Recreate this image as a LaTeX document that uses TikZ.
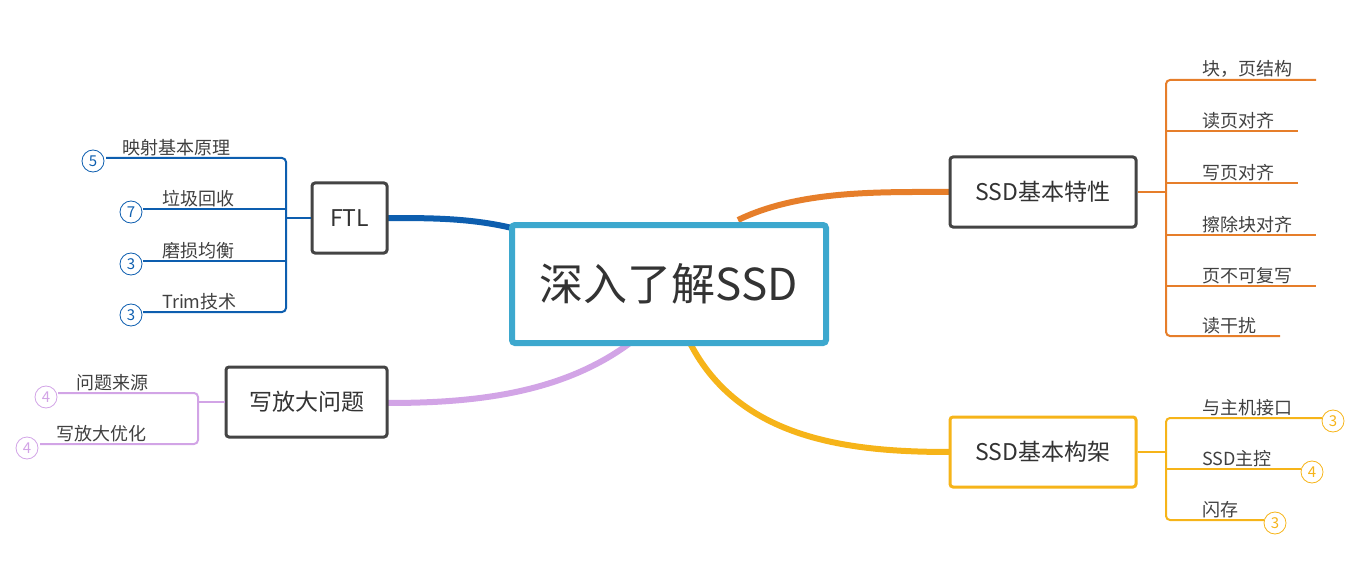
\documentclass[tikz,border=0pt]{standalone}
\usepackage{fontspec}
\setmainfont{Noto Sans CJK SC}
\begin{document}
\begin{tikzpicture}[x=1pt,y=-1pt,
 box/.style={draw=#1,line width=3pt,rounded corners=3pt,fill=white,inner sep=0pt},
 lbl/.style={anchor=south west,inner sep=2pt,font=\fontsize{18}{20}\selectfont,text=black!75},
 num/.style={circle,draw=#1,text=#1,line width=0.8pt,minimum size=22pt,inner sep=0pt,font=\fontsize{15}{16}\selectfont},
 br/.style={draw=#1,line width=2pt,rounded corners=4pt}]
\definecolor{cb}{HTML}{0D5EAF}\definecolor{co}{HTML}{E67E2A}\definecolor{cy}{HTML}{F6B419}
\definecolor{cp}{HTML}{D2A4E6}\definecolor{cc}{HTML}{3DA8CE}\definecolor{dg}{HTML}{444444}
\useasboundingbox (0,0) rectangle (1361,567);
% connectors
\draw[cb,line width=6pt] (512,228) .. controls (470,218) and (430,218) .. (387,218);
\draw[co,line width=6pt] (738,220) .. controls (800,190) and (880,192) .. (950,192);
\draw[cy,line width=6pt] (690,343) .. controls (740,440) and (850,452) .. (950,452);
\draw[cp,line width=6pt] (630,343) .. controls (560,395) and (470,403) .. (387,403);
% nodes
\node[box=cc,line width=6pt,minimum width=314pt,minimum height=118pt,font=\fontsize{44}{48}\selectfont,text=black!80] (c) at (669,284) {深入了解SSD};
\node[box=dg,minimum width=75pt,minimum height=70pt,font=\fontsize{23}{26}\selectfont,text=black!80] (ftl) at (349.5,218) {FTL};
\node[box=dg,minimum width=186pt,minimum height=70pt,font=\fontsize{23}{26}\selectfont,text=black!80] (tx) at (1043,192) {SSD基本特性};
\node[box=cy,minimum width=186pt,minimum height=70pt,font=\fontsize{23}{26}\selectfont,text=black!80] (gj) at (1043,452) {SSD基本构架};
\node[box=dg,minimum width=161pt,minimum height=70pt,font=\fontsize{23}{26}\selectfont,text=black!80] (xf) at (306.5,402) {写放大问题};
% FTL children
\draw[br=cb] (ftl.west) -- (286,218);
\draw[br=cb] (106,158) -- (286,158) -- (286,312) -- (143,312);
\draw[br=cb] (143,209) -- (286,209);
\draw[br=cb] (143,261) -- (286,261);
\node[lbl] (f1) at (120,158) {映射基本原理};
\node[lbl] (f2) at (160,209) {垃圾回收};
\node[lbl] (f3) at (160,261) {磨损均衡};
\node[lbl] (f4) at (160,312) {Trim技术};
\node[num=cb] (n1) at (93,161) {5};
\node[num=cb] (n2) at (131,212) {7};
\node[num=cb] (n3) at (131,264) {3};
\node[num=cb] (n4) at (131,315) {3};
% SSD features
\draw[br=co] (tx.east) -- (1166,192);
\draw[br=co] (1316,80) -- (1166,80) -- (1166,336) -- (1280,336);
\draw[br=co] (1166,131) -- (1298,131);
\draw[br=co] (1166,183) -- (1298,183);
\draw[br=co] (1166,235) -- (1316,235);
\draw[br=co] (1166,286) -- (1316,286);
\node[lbl] (t1) at (1200,80) {块，页结构};
\node[lbl] (t2) at (1200,131) {读页对齐};
\node[lbl] (t3) at (1200,183) {写页对齐};
\node[lbl] (t4) at (1200,235) {擦除块对齐};
\node[lbl] (t5) at (1200,286) {页不可复写};
\node[lbl] (t6) at (1200,336) {读干扰};
% architecture
\draw[br=cy] (gj.east) -- (1166,452);
\draw[br=cy] (1322,418) -- (1166,418) -- (1166,520) -- (1264,520);
\draw[br=cy] (1166,469) -- (1301,469);
\node[lbl] (g1) at (1200,418) {与主机接口};
\node[lbl] (g2) at (1200,469) {SSD主控};
\node[lbl] (g3) at (1200,520) {闪存};
\node[num=cy] (m1) at (1333,421) {3};
\node[num=cy] (m2) at (1312,472) {4};
\node[num=cy] (m3) at (1275,523) {3};
% write amplification
\draw[br=cp] (xf.west) -- (198,402);
\draw[br=cp] (58,393) -- (198,393) -- (198,444) -- (40,444);
\node[lbl] (w1) at (74,393) {问题来源};
\node[lbl] (w2) at (54,444) {写放大优化};
\node[num=cp] (p1) at (46,397) {4};
\node[num=cp] (p2) at (27,448) {4};
\end{tikzpicture}
\end{document}
